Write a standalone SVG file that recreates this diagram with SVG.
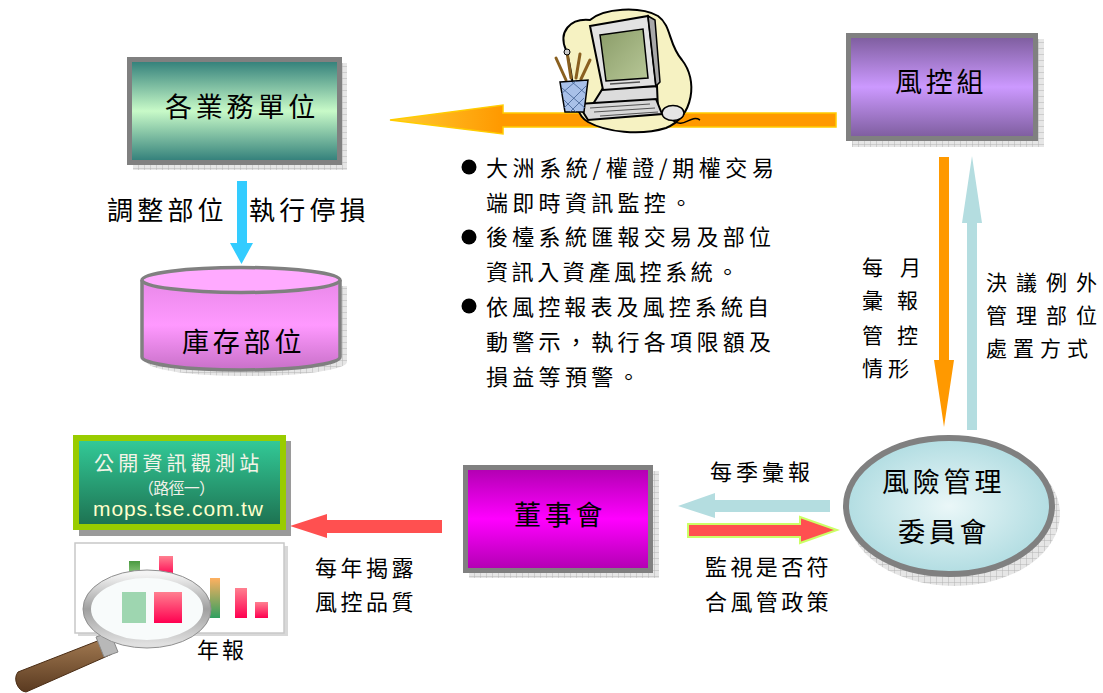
<svg xmlns="http://www.w3.org/2000/svg" width="1103" height="693" viewBox="0 0 1103 693">
<defs>
<style>
.t{font-family:'Noto Sans CJK TC','Noto Sans CJK SC',sans-serif;fill:#000;}
.big{font-size:27px;letter-spacing:3.8px;}
.mid{font-size:22px;letter-spacing:4px;}
.sm{font-size:21px;}
.box{stroke:#808080;stroke-width:5;}
.shadow{fill:url(#hatch);}
</style>
<pattern id="hatch" width="6" height="6" patternUnits="userSpaceOnUse"><rect width="6" height="6" fill="#e6e6e6"/><path d="M0 0H6M0 0V6" stroke="#b4b4b4" stroke-width="1"/></pattern>
<linearGradient id="gTeal" x1="0" y1="0" x2="0" y2="1"><stop offset="0" stop-color="#2e7c78"/><stop offset="0.5" stop-color="#c8fac8"/><stop offset="1" stop-color="#2e7c78"/></linearGradient>
<linearGradient id="gPurple" x1="0" y1="0" x2="0" y2="1"><stop offset="0" stop-color="#7c5c9c"/><stop offset="0.5" stop-color="#cc99ff"/><stop offset="1" stop-color="#7c5c9c"/></linearGradient>
<linearGradient id="gMag" x1="0" y1="0" x2="0" y2="1"><stop offset="0" stop-color="#b000b0"/><stop offset="0.5" stop-color="#ff00ff"/><stop offset="1" stop-color="#b000b0"/></linearGradient>
<linearGradient id="gPink" x1="0" y1="0" x2="0" y2="1"><stop offset="0" stop-color="#e888e8"/><stop offset="0.5" stop-color="#ff99ff"/><stop offset="1" stop-color="#c870c8"/></linearGradient>
<radialGradient id="gCyan" cx="0.5" cy="0.5" r="0.5"><stop offset="0" stop-color="#eaf7f8"/><stop offset="1" stop-color="#b2dde2"/></radialGradient>
<linearGradient id="gGreen" x1="0" y1="0" x2="0" y2="1"><stop offset="0" stop-color="#33cc99"/><stop offset="1" stop-color="#1d7050"/></linearGradient>
<linearGradient id="gOrange" x1="0" y1="0" x2="1" y2="0"><stop offset="0" stop-color="#ffcc33"/><stop offset="0.25" stop-color="#ff9900"/><stop offset="1" stop-color="#ff9900"/></linearGradient>
<linearGradient id="gScreen" x1="0" y1="0" x2="1" y2="1"><stop offset="0" stop-color="#8a9c68"/><stop offset="1" stop-color="#b8c898"/></linearGradient>
<linearGradient id="gBarGreen" x1="0" y1="0" x2="0" y2="1"><stop offset="0" stop-color="#4a9a40"/><stop offset="1" stop-color="#9ad08a"/></linearGradient>
<linearGradient id="gBarRed" x1="0" y1="0" x2="0" y2="1"><stop offset="0" stop-color="#ff8090"/><stop offset="1" stop-color="#ff0050"/></linearGradient>
<linearGradient id="gBarOG" x1="0" y1="0" x2="0" y2="1"><stop offset="0" stop-color="#ffb060"/><stop offset="1" stop-color="#30a060"/></linearGradient>
<linearGradient id="gRim" x1="0" y1="0" x2="0" y2="1"><stop offset="0" stop-color="#f4f4f4"/><stop offset="0.5" stop-color="#a0a0a0"/><stop offset="1" stop-color="#e0e0e0"/></linearGradient>
<linearGradient id="gHandle" x1="0" y1="0" x2="0" y2="1"><stop offset="0" stop-color="#a07850"/><stop offset="1" stop-color="#5a3a20"/></linearGradient>
</defs>
<rect width="1103" height="693" fill="#fff"/>

<g id="connectors">
<polygon points="390,120 503,105 503,113 836,113 836,127 503,127 503,134" fill="url(#gOrange)" stroke="#ffcc00" stroke-width="1.5"/>
<polygon points="237,181 247,181 247,243 253,243 241.5,264 230,243 237,243" fill="#33ccff"/>
<polygon points="939,157 949,157 949,360 954,360 944,427 934,360 939,360" fill="#ff9900"/>
<polygon points="967,430 977,430 977,223 982,223 972,156 962,223 967,223" fill="#b4dde0"/>
<polygon points="678,506 715,493 715,500 830,500 830,512 715,512 715,518" fill="#b4dde0"/>
<polygon points="688,524 800,524 800,517 837,530 800,543 800,537 688,537" fill="#ff5050" stroke="#ccff66" stroke-width="2"/>
<polygon points="290,526 327,514 327,520 442,520 442,533 327,533 327,538" fill="#ff5050"/>
</g>

<g id="clipart-computer">
<path d="M566,50 C558,32 570,18 590,20 C604,8 640,6 658,16 C672,26 668,44 682,60 C698,80 694,116 666,128 C640,136 606,132 588,122 C570,112 576,80 566,50 Z" fill="#f6f2c2" stroke="#000" stroke-width="2"/>
<polygon points="603,88 657,86 658,110 588,112" fill="#dcdcdc" stroke="#000" stroke-width="2"/>
<polygon points="590,26 648,16 656,86 603,90" fill="#e2e2e2" stroke="#000" stroke-width="2"/>
<polygon points="648,16 655,20 660,82 656,86" fill="#a8a8a8" stroke="#000" stroke-width="1.5"/>
<polygon points="600,35 643,29 648,78 606,81" fill="url(#gScreen)" stroke="#000" stroke-width="1.5"/>
<path d="M610,84 L640,82" stroke="#555" stroke-width="1.5"/>
<polygon points="578,104 656,99 662,114 588,120" fill="#d8d8d8" stroke="#000" stroke-width="2"/>
<path d="M590,108 L650,104 M594,112 L655,108 M600,116 L658,112" stroke="#555" stroke-width="1.2"/>
<path d="M672,120 C684,130 690,114 700,120" fill="none" stroke="#000" stroke-width="1.5"/>
<ellipse cx="673" cy="113" rx="11" ry="7.5" fill="#e4e4e4" stroke="#000" stroke-width="1.5"/>
<path d="M566,80 L556,58 M571,78 L567,52 M576,78 L580,54 M581,79 L590,60" stroke="#8a6020" stroke-width="3" stroke-linecap="round"/>
<circle cx="567" cy="52" r="3" fill="#ccc" stroke="#000"/>
<polygon points="560,82 588,80 584,112 565,112" fill="#a8c0e8" stroke="#000" stroke-width="1.5"/>
<path d="M562,88 L585,108 M564,100 L576,112 M572,82 L586,94 M586,86 L564,108 M584,98 L570,112 M576,81 L561,94" stroke="#406090" stroke-width="0.8"/>
</g>

<g id="node-business">
<rect x="133" y="63" width="214" height="107" class="shadow"/>
<rect x="129.5" y="59.5" width="210" height="103" fill="url(#gTeal)" class="box"/>
<text x="165" y="117" class="t big">各業務單位</text>
</g>

<g id="node-inventory">
<path d="M147,286 V362 A100,14 0 0 0 347,362 V286 Z" class="shadow"/>
<path d="M142,280 V357 A99,13 0 0 0 340,357 V280" fill="url(#gPink)" stroke="#808080" stroke-width="3.5"/>
<ellipse cx="241" cy="280" rx="99" ry="12.5" fill="#ffaaff" stroke="#808080" stroke-width="3.5"/>
<text x="182" y="352" class="t big">庫存部位</text>
</g>

<g id="node-riskgroup">
<rect x="852" y="39" width="192" height="108" class="shadow"/>
<rect x="848.5" y="35.5" width="187" height="103" fill="url(#gPurple)" class="box"/>
<text x="895" y="92" class="t big">風控組</text>
</g>

<g id="node-board">
<rect x="469" y="471" width="190" height="107" class="shadow"/>
<rect x="465.5" y="467.5" width="185" height="103" fill="url(#gMag)" class="box"/>
<text x="514" y="525" class="t big">董事會</text>
</g>

<g id="node-committee">
<ellipse cx="954" cy="514" rx="106" ry="72" class="shadow"/>
<ellipse cx="949" cy="506" rx="103" ry="68" fill="url(#gCyan)" stroke="#808080" stroke-width="6"/>
<text x="882" y="492" class="t big">風險管理</text>
<text x="898" y="542" class="t big">委員會</text>
</g>

<g id="node-mops">
<rect x="79" y="441" width="212" height="95" fill="#9a9a9a"/>
<rect x="76" y="438" width="207" height="89" fill="url(#gGreen)" stroke="#99cc00" stroke-width="6"/>
<text x="94" y="471" class="t" style="font-size:20px;letter-spacing:4.2px;fill:#f4f4e8">公開資訊觀測站</text>
<text x="138" y="494" class="t" style="font-size:16px;fill:#f0f0e8" textLength="77" lengthAdjust="spacing">（路徑一）</text>
<text x="93" y="516" style="font-family:'Liberation Sans',Arial,sans-serif;font-size:21px;fill:#ffffcc" textLength="170" lengthAdjust="spacing">mops.tse.com.tw</text>
</g>

<g id="node-annual-report">
<rect x="78" y="546" width="210" height="90" fill="#d8d8d8"/>
<rect x="75" y="543" width="209" height="90" fill="#fff" stroke="#c8c8c8" stroke-width="1.5"/>
<rect x="129" y="561" width="11" height="16" fill="url(#gBarGreen)"/>
<rect x="159" y="556" width="14" height="20" fill="url(#gBarRed)"/>
<rect x="210" y="578" width="10" height="40" fill="url(#gBarOG)"/>
<rect x="235" y="588" width="12" height="30" fill="url(#gBarRed)"/>
<rect x="255" y="602" width="13" height="16" fill="url(#gBarRed)"/>
<path d="M100,640 L18,672 A10,12 -20 0 0 26,692 L112,654 Z" fill="url(#gHandle)" stroke="#4a2c14" stroke-width="1"/>
<polygon points="96,637 110,632 118,652 104,657" fill="#b8b8b8" stroke="#888"/>
<ellipse cx="147" cy="609" rx="58" ry="33" fill="#f8fbfb"/>
<rect x="122" y="592" width="24" height="31" fill="#9ed6b0"/>
<rect x="154" y="592" width="28" height="31" fill="url(#gBarRed)"/>
<ellipse cx="147" cy="609" rx="60" ry="35" fill="none" stroke="url(#gRim)" stroke-width="8"/>
<ellipse cx="147" cy="609" rx="64" ry="39" fill="none" stroke="#909090" stroke-width="1"/>
<text x="197" y="658" class="t" style="font-size:22px;letter-spacing:3px">年報</text>
</g>

<g id="labels">
<text x="107" y="220" class="t" style="font-size:26px;letter-spacing:4.2px">調整部位</text>
<text x="249" y="220" class="t" style="font-size:26px;letter-spacing:4.2px">執行停損</text>

<circle cx="469" cy="167" r="7.5" fill="#000"/>
<circle cx="469" cy="237" r="7.5" fill="#000"/>
<circle cx="469" cy="306" r="7.5" fill="#000"/>
<text x="486" y="176" class="t" style="font-size:22px" textLength="288" lengthAdjust="spacing">大洲系統/權證/期權交易</text>
<text x="486" y="211" class="t mid" style="letter-spacing:4.3px">端即時資訊監控。</text>
<text x="486" y="245" class="t mid" style="letter-spacing:4.3px">後檯系統匯報交易及部位</text>
<text x="486" y="280" class="t mid" style="letter-spacing:3.6px">資訊入資產風控系統。</text>
<text x="486" y="315" class="t mid" style="letter-spacing:4.1px">依風控報表及風控系統自</text>
<text x="486" y="350" class="t mid" style="letter-spacing:4.3px">動警示，執行各項限額及</text>
<text x="486" y="385" class="t mid" style="letter-spacing:4.3px">損益等預警。</text>

<text class="t sm" x="862 900" y="275">每月</text>
<text class="t sm" x="862 897" y="308">彙報</text>
<text class="t sm" x="862 897" y="343">管控</text>
<text class="t sm" x="862 888" y="376">情形</text>

<text class="t sm" x="986 1016 1046 1076" y="290">決議例外</text>
<text class="t sm" x="986 1016 1046 1076" y="323">管理部位</text>
<text class="t sm" x="986 1013 1040 1067" y="356">處置方式</text>

<text x="710" y="480" class="t mid">每季彙報</text>
<text x="705" y="575" class="t mid" style="letter-spacing:3.4px">監視是否符</text>
<text x="705" y="610" class="t mid" style="letter-spacing:3.4px">合風管政策</text>
<text x="315" y="576" class="t mid" style="letter-spacing:3.5px">每年揭露</text>
<text x="315" y="610" class="t mid" style="letter-spacing:3.5px">風控品質</text>
</g>
</svg>
